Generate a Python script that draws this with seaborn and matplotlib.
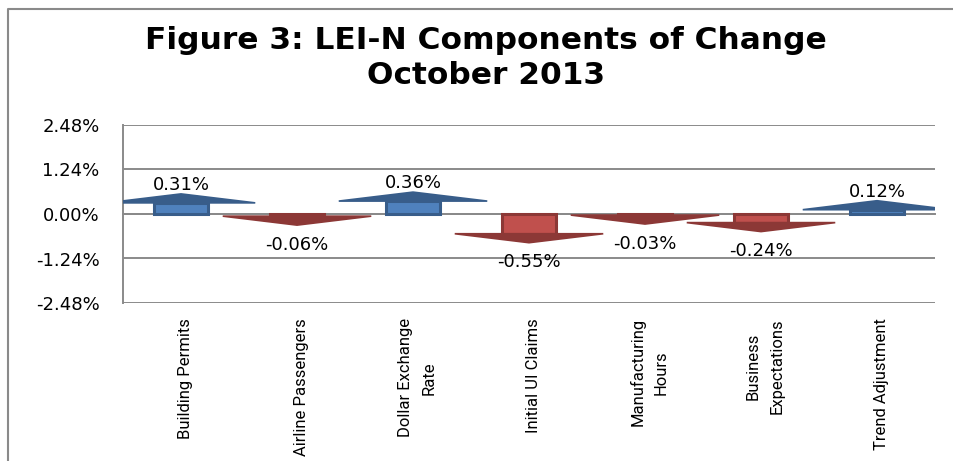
import numpy as np
import matplotlib
matplotlib.use("Agg")
import matplotlib.pyplot as plt
import seaborn as sns
from matplotlib.lines import Line2D
from matplotlib.patches import Polygon

# ----- Data -----
categories = ["Building Permits", "Airline Passengers", "Dollar Exchange\nRate",
              "Initial UI Claims", "Manufacturing\nHours", "Business\nExpectations",
              "Trend Adjustment"]
values = [0.31, -0.06, 0.36, -0.55, -0.03, -0.24, 0.12]
y_ticks = [-2.48, -1.24, 0.00, 1.24, 2.48]
title_lines = ["Figure 3: LEI-N Components of Change", "October 2013"]

# ----- Style -----
sns.set_style("white")
plt.rcParams["font.family"] = ["DejaVu Sans"]
plt.rcParams["text.color"] = "black"

GRID = "#8a8a8a"
BLUE, BLUE_DARK = "#4f81bd", "#385d8a"
RED, RED_DARK = "#c0504d", "#8c3836"
HEAD_LEN = 0.25      # arrow head length, in % units
HEAD_HALF = 0.64     # arrow head half width, in category units

fig = plt.figure(figsize=(9.54, 4.61), dpi=100)
ax = fig.add_axes([123 / 954, 1 - 303 / 461, (935 - 123) / 954, 178 / 461])

fills = [BLUE if v >= 0 else RED for v in values]
edges = [BLUE_DARK if v >= 0 else RED_DARK for v in values]

# ----- Arrow bodies -----
sns.barplot(x=list(range(len(values))), y=values, hue=list(range(len(values))),
            palette=fills, saturation=1, legend=False, width=0.47, ax=ax, zorder=3)
for patch, ec in zip(ax.patches, edges):
    patch.set_edgecolor(ec)
    patch.set_linewidth(2.2)

# ----- Arrow heads + data labels -----
for i, v in enumerate(values):
    s = 1 if v >= 0 else -1
    head = Polygon([(i - HEAD_HALF, v), (i + HEAD_HALF, v), (i, v + s * HEAD_LEN)],
                   closed=True, facecolor=edges[i], edgecolor=edges[i],
                   linewidth=1.2, zorder=4)
    ax.add_patch(head)
    label_y = v + (0.5 if v >= 0 else -0.8)
    ax.text(i, label_y, f"{v:.2f}%", ha="center", va="center",
            fontsize=13, color="black", zorder=5)

# ----- Axes -----
ax.set_ylim(-2.48, 2.48)
ax.set_xlim(-0.5, len(values) - 0.5)
ax.set_yticks(y_ticks)
ax.set_yticklabels([f"{t:.2f}%" for t in y_ticks], fontsize=13)
ax.yaxis.grid(True, color=GRID, linewidth=1.4, zorder=0)
ax.set_axisbelow(True)
ax.tick_params(axis="y", direction="out", length=5, width=1.2, color=GRID,
               labelcolor="black", pad=12)

ax.set_xticks(np.arange(-0.5, len(values), 1.0))
ax.set_xticklabels([])
ax.tick_params(axis="x", direction="out", length=5, width=1.2, color=GRID)

ax.spines["bottom"].set_position(("data", 0))
ax.spines["bottom"].set_color(GRID)
ax.spines["bottom"].set_linewidth(1.4)
ax.spines["bottom"].set_zorder(2)
ax.spines["left"].set_color(GRID)
ax.spines["left"].set_linewidth(1.4)
ax.spines["top"].set_visible(False)
ax.spines["right"].set_visible(False)
ax.set_xlabel("")
ax.set_ylabel("")

# category labels below the plot area
for i, name in enumerate(categories):
    ax.annotate(name, xy=(i, 0), xycoords=("data", "axes fraction"),
                xytext=(3, -11), textcoords="offset points",
                rotation=90, ha="center", va="top", multialignment="center",
                linespacing=1.7, fontsize=12, color="black",
                family=["Roboto", "DejaVu Sans"])

# ----- Title -----
fig.text(0.509, 0.913, title_lines[0], ha="center", va="center",
         fontsize=22.5, fontweight="bold", color="black")
fig.text(0.509, 0.837, title_lines[1], ha="center", va="center",
         fontsize=22.5, fontweight="bold", color="black")

# chart frame (left and top edges)
fig.add_artist(Line2D([8 / 954, 8 / 954, 1], [0, 1 - 9 / 461, 1 - 9 / 461],
                      transform=fig.transFigure, color=GRID, linewidth=1.5))

fig.savefig("out.png", dpi=100)
